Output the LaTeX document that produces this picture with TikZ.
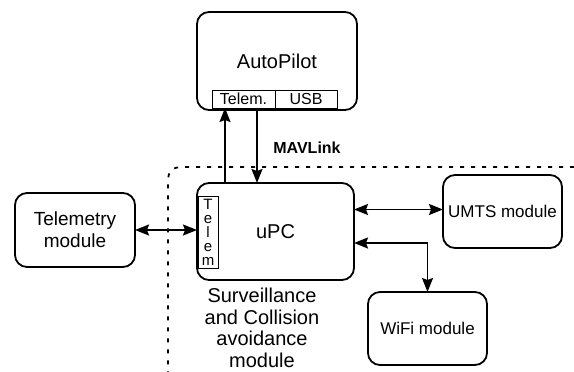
\documentclass[tikz,border=0pt]{standalone}
\usepackage{fontspec}
\setmainfont{Liberation Sans}
\usetikzlibrary{arrows.meta,positioning,calc}

\begin{document}
\begin{tikzpicture}[
      x=1pt,y=-1pt,
      box/.style={draw,rounded corners=12pt,line width=1.8pt,
        inner sep=0pt,outer sep=0pt,align=center},
      port/.style={draw,line width=0.8pt,inner sep=0pt,outer sep=0pt,
        minimum height=18pt,font=\fontsize{16}{16}\selectfont},
      arr/.style={-{Stealth[length=14pt,width=11pt,inset=2pt]},line width=1.8pt},
      darr/.style={{Stealth[length=14pt,width=11pt,inset=2pt]}-{Stealth[length=14pt,width=11pt,inset=2pt]},line width=1.8pt},
      frame/.style={line width=1.8pt,dash pattern=on 4pt off 7pt,rounded corners=12pt}
    ]
      \useasboundingbox (0,0) rectangle (574,372);

      \draw[frame] (574,167) -| (168,372);

      \node[box,minimum width=160pt,minimum height=98pt,
        font=\fontsize{20}{20}\selectfont](ap) at (277,61){AutoPilot};
      \node[port,minimum width=63pt](tsub) at (243.5,99){Telem.};
      \node[port,minimum width=62pt](usb) at (306,99){USB};

      \node[box,minimum width=157pt,minimum height=97pt,
        font=\fontsize{20}{20}\selectfont](upc) at (275.5,231.5){uPC};
      \node[draw,line width=0.8pt,inner sep=0pt,outer sep=0pt,
        minimum width=20pt,minimum height=72pt,align=center,
        font=\fontsize{15}{14}\selectfont](ptelem) at (208,232){T\\e\\l\\e\\m};

      \node[box,minimum width=120pt,minimum height=74pt,
        font=\fontsize{19}{22}\selectfont](tm) at (75,230){Telemetry\\module};
      \node[box,minimum width=119pt,minimum height=73pt,
        font=\fontsize{17}{17}\selectfont](umts) at (502.5,211.5){UMTS module};
      \node[box,minimum width=119pt,minimum height=73pt,
        font=\fontsize{17}{17}\selectfont](wifi) at (427.5,328.5){WiFi module};

      \node[font=\fontsize{16}{16}\selectfont\bfseries](mav) at (307,148){MAVLink};
      \node[align=center,inner sep=0pt,
        font=\fontsize{20}{21.5}\selectfont](cap) at (262,328){Surveillance\\and Collision\\avoidance\\module};

      \draw[arr]([xshift=28pt]upc.north west)--([xshift=28pt]upc.north west |- tsub.south);
      \draw[arr]([xshift=60pt]upc.north west |- tsub.south)--([xshift=60pt]upc.north west);
      \draw[darr](tm.east)--(tm.east -| upc.west);
      \draw[darr]([yshift=2pt]umts.west -| upc.east)--([yshift=2pt]umts.west);
      \draw[darr]([yshift=-11.5pt]upc.east)-|(wifi.north);
    \end{tikzpicture}
\end{document}
